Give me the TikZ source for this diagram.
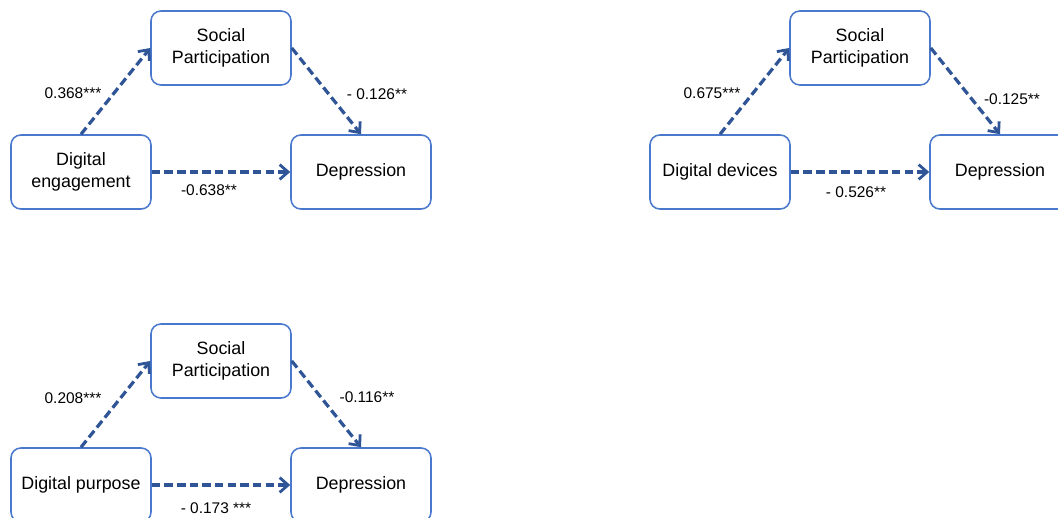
\documentclass[tikz,border=0pt]{standalone}
\usepackage{fontspec}
\setmainfont{Liberation Sans}
\usetikzlibrary{arrows.meta}
\definecolor{boxblue}{HTML}{4A78CC}
\definecolor{flowblue}{HTML}{2F5597}
\begin{document}
\begin{tikzpicture}[
  var/.style={draw=boxblue,line width=1.1pt,rounded corners=7pt,minimum width=3.5cm,
    minimum height=1.85cm,inner sep=0pt,align=center,
    font=\fontsize{12.7}{15.6}\selectfont},
  coef/.style={font=\fontsize{11}{13}\selectfont},
  flow/.style={draw=flowblue,line width=2.3pt,dash pattern=on 6pt off 3pt,
    -{Straight Barb[length=6pt,width=10.5pt,line width=2pt]}}
]
  \useasboundingbox (0,0) rectangle (26.45,-12.925);

  % engagement
  \node[var] (sp1) at (5.525, -1.2) {Social\\Participation};
  \node[var] (x1) at (2.025, -4.3) {Digital\\engagement};
  \node[var] (d1) at (9.025, -4.3) {Depression};

  \draw[flow] (x1.north) -- (sp1.west);
  \draw[flow] (sp1.east) -- (d1.north);
  \draw[flow] (x1.east) -- (d1.west);

  \node[coef] (a1) at (1.825, -2.325) {0.368***};
  \node[coef] (b1) at (9.425, -2.35) {- 0.126**};
  \node[coef] (c1) at (5.225, -4.75) {-0.638**};

  % devices
  \node[var] (sp2) at (21.5, -1.2) {Social\\Participation};
  \node[var] (x2) at (18.0, -4.3) {Digital devices};
  \node[var] (d2) at (25.0, -4.3) {Depression};

  \draw[flow] (x2.north) -- (sp2.west);
  \draw[flow] (sp2.east) -- (d2.north);
  \draw[flow] (x2.east) -- (d2.west);

  \node[coef] (a2) at (17.8, -2.325) {0.675***};
  \node[coef] (b2) at (25.3, -2.475) {-0.125**};
  \node[coef] (c2) at (21.4, -4.8) {- 0.526**};

  % purpose
  \node[var] (sp3) at (5.525, -9.025) {Social\\Participation};
  \node[var] (x3) at (2.025, -12.125) {Digital purpose};
  \node[var] (d3) at (9.025, -12.125) {Depression};

  \draw[flow] (x3.north) -- (sp3.west);
  \draw[flow] (sp3.east) -- (d3.north);
  \draw[flow] (x3.east) -- (d3.west);

  \node[coef] (a3) at (1.825, -9.95) {0.208***};
  \node[coef] (b3) at (9.175, -9.925) {-0.116**};
  \node[coef] (c3) at (5.4, -12.7) {- 0.173 ***};
\end{tikzpicture}
\end{document}
